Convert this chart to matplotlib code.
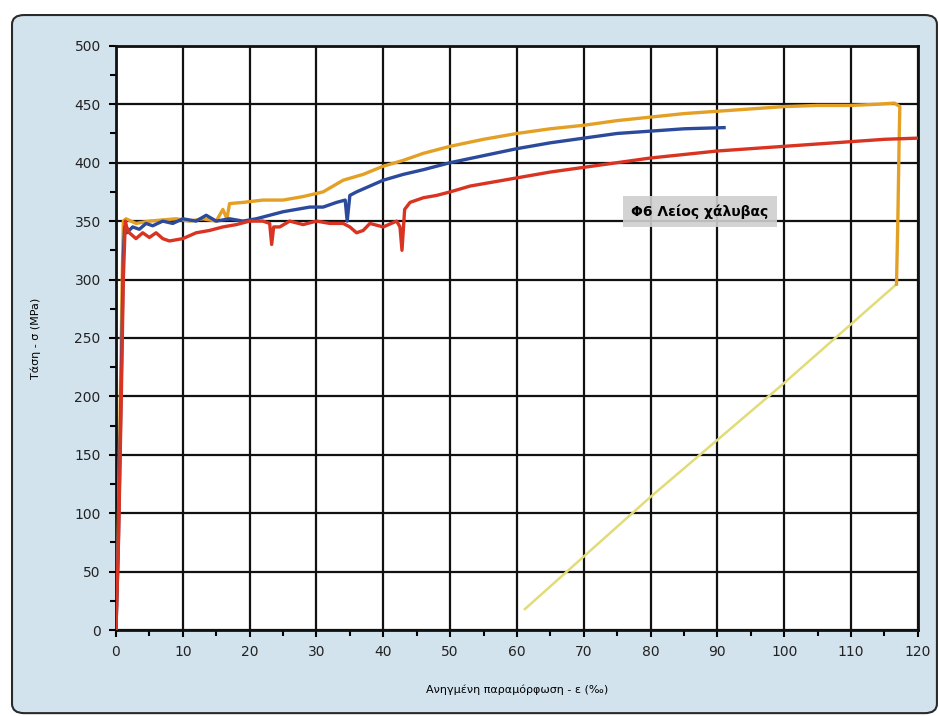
import matplotlib
matplotlib.use("Agg")
import matplotlib.pyplot as plt
from matplotlib.patches import FancyBboxPatch
from matplotlib.ticker import MultipleLocator

# strain (‰) / stress (MPa)
blue_strain = [0, 0.3, 0.6, 0.9, 1.1, 1.3, 1.6, 2.5, 3.5, 4.5, 5.5, 7, 8.5, 10, 12, 13.5,
               15, 17, 19, 21, 23, 25, 27, 29, 31, 33, 34.3, 34.6, 35, 36, 38, 40, 43,
               46, 50, 55, 60, 65, 70, 75, 80, 85, 91]
blue_stress = [0, 60, 150, 250, 320, 345, 340, 345, 343, 348, 346, 350, 348, 352, 350, 355,
               350, 352, 350, 352, 355, 358, 360, 362, 362, 366, 368, 350, 372, 375, 380, 385, 390,
               394, 400, 406, 412, 417, 421, 425, 427, 429, 430]

red_strain = [0, 0.4, 0.8, 1.1, 1.4, 1.6, 2, 3, 4, 5, 6, 7, 8, 10, 12, 14, 16, 18, 20, 22,
              23, 23.3, 23.6, 24.5, 26, 28, 30, 32, 34, 35, 36, 37, 38, 40, 42, 42.5, 42.8,
              43.2, 44, 46, 48, 50, 53, 56, 60, 65, 70, 75, 80, 85, 90, 95, 100, 105, 110,
              115, 120]
red_stress = [0, 80, 200, 300, 350, 345, 340, 335, 340, 336, 340, 335, 333, 335, 340, 342,
              345, 347, 350, 350, 348, 330, 345, 345, 350, 347, 350, 348, 348, 345, 340, 342,
              348, 345, 350, 345, 325, 360, 366, 370, 372, 375, 380, 383, 387, 392, 396, 400,
              404, 407, 410, 412, 414, 416, 418, 420, 421]

orange_strain = [0, 0.3, 0.6, 0.9, 1.1, 1.5, 3, 5, 7, 9, 11, 13, 15, 16, 16.6, 17, 19, 22,
                 25, 28, 31, 34, 37, 40, 43, 46, 50, 55, 60, 65, 70, 75, 80, 85, 90, 95, 100,
                 105, 110, 114, 116.5, 117.3, 117.2, 117, 116.8]
orange_stress = [0, 70, 180, 290, 350, 352, 348, 350, 351, 352, 350, 352, 350, 360, 352, 365,
                 366, 368, 368, 371, 375, 385, 390, 397, 402, 408, 414, 420, 425, 429, 432,
                 436, 439, 442, 444, 446, 448, 449, 449, 450, 451, 448, 420, 350, 296]

unload_strain = [116.8, 99.7, 80, 61.2]
unload_stress = [296, 210, 114, 18]

note_text = "Φ6 Λείος χάλυβας"

fig = plt.figure(figsize=(9.39, 7.16), dpi=100)
fig.patch.set_facecolor("white")
frame = FancyBboxPatch((0.0128, 0.004), 0.985, 0.975,
                       boxstyle="round,pad=0,rounding_size=0.013",
                       transform=fig.transFigure, facecolor="#d3e3ee",
                       edgecolor="#2a2a2a", linewidth=1.5, zorder=-1)
fig.patches.append(frame)

ax = fig.add_axes([0.1235, 0.12, 0.854, 0.816])
ax.set_zorder(1)
ax.set_facecolor("white")

ax.plot(unload_strain, unload_stress, color="#e2dc78", lw=1.8, zorder=3)
ax.plot(orange_strain, orange_stress, color="#e3a024", lw=2.4, zorder=4)
ax.plot(blue_strain, blue_stress, color="#2c4a9c", lw=2.4, zorder=5)
ax.plot(red_strain, red_stress, color="#d93322", lw=2.4, zorder=6)

ax.set_xlim(0, 120)
ax.set_ylim(0, 500)
ax.xaxis.set_major_locator(MultipleLocator(10))
ax.xaxis.set_minor_locator(MultipleLocator(5))
ax.yaxis.set_major_locator(MultipleLocator(50))
ax.yaxis.set_minor_locator(MultipleLocator(25))
ax.grid(True, which="major", color="#111111", linewidth=1.6, zorder=1)
ax.set_axisbelow(True)
for s in ax.spines.values():
    s.set_linewidth(2)
    s.set_color("#111111")
ax.tick_params(which="major", direction="out", length=5, width=1.5, labelsize=10,
               labelcolor="#222222", pad=6)
ax.tick_params(which="minor", direction="out", length=4, width=1.5)

ax.set_xlabel("Ανηγμένη παραμόρφωση - ε (‰)", fontsize=8, labelpad=18)
ax.set_ylabel("Τάση - σ (MPa)", fontsize=8, labelpad=24)

ax.text(87.4, 358, note_text, fontsize=10, fontweight="bold", ha="center", va="center",
        zorder=7, bbox=dict(boxstyle="square,pad=0.6", facecolor="#cfcfcf",
                            edgecolor="none", alpha=0.9))

fig.savefig("out.png", dpi=100)
